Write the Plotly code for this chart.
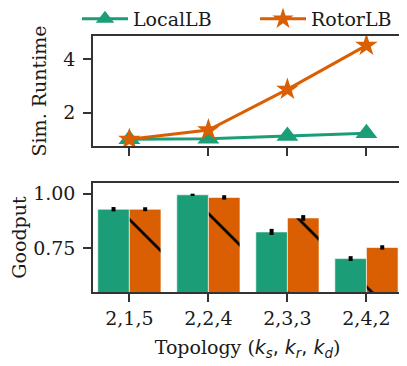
import plotly.graph_objects as go

topologies = ["2,1,5", "2,2,4", "2,3,3", "2,4,2"]
runtime_local = [1.0, 1.02, 1.12, 1.23]
runtime_rotor = [1.0, 1.35, 2.87, 4.52]
goodput_local = [0.929, 0.995, 0.825, 0.703]
goodput_rotor = [0.929, 0.983, 0.889, 0.754]
goodput_local_err = [0.010, 0.005, 0.014, 0.011]
goodput_rotor_err = [0.009, 0.010, 0.013, 0.010]

GREEN = "#1b9e77"
ORANGE = "#d95f02"
FONT = "DejaVu Serif"
TXT = "#1a1a1a"
AX = "#333333"

# The page body has an 8px margin; the figure is sized so it fits the window.
W, H = 399, 358
OFF = 8


def px_x(v):
    return (v - OFF) / W


def px_y(v):
    return 1 - (v - OFF) / H


fig = go.Figure()

fig.add_trace(go.Scatter(
    x=topologies, y=runtime_local, name="LocalLB", mode="lines+markers",
    line=dict(color=GREEN, width=3),
    marker=dict(symbol="triangle-up", size=19, color=GREEN),
    xaxis="x", yaxis="y", legend="legend",
))
fig.add_trace(go.Scatter(
    x=topologies, y=runtime_rotor, name="RotorLB", mode="lines+markers",
    line=dict(color=ORANGE, width=3),
    marker=dict(symbol="star", size=17, color=ORANGE),
    xaxis="x", yaxis="y", legend="legend2",
))

fig.add_trace(go.Bar(
    x=topologies, y=goodput_local, name="LocalLB", showlegend=False,
    marker=dict(color=GREEN, line=dict(color="rgba(255,255,255,0.6)", width=1)),
    error_y=dict(type="data", array=goodput_local_err, color="black", thickness=4, width=0),
    xaxis="x2", yaxis="y2",
))
fig.add_trace(go.Bar(
    x=topologies, y=goodput_rotor, name="RotorLB", showlegend=False,
    marker=dict(color=ORANGE, line=dict(color="rgba(255,255,255,0.6)", width=1),
                pattern=dict(shape="\\", size=60, solidity=0.045,
                             fgcolor="black", bgcolor=ORANGE, fillmode="replace")),
    error_y=dict(type="data", array=goodput_rotor_err, color="black", thickness=4, width=0),
    xaxis="x2", yaxis="y2",
))

xdom = [px_x(93), px_x(402)]
axis_common = dict(showline=True, linecolor=AX, linewidth=1.5, mirror=True,
                   ticks="outside", ticklen=8, tickwidth=1.5, tickcolor=AX,
                   showgrid=False, zeroline=False, automargin=False,
                   tickfont=dict(family=FONT, size=19, color=TXT))

legend_common = dict(orientation="h", xanchor="left", y=px_y(0), yanchor="top",
                     font=dict(family=FONT, size=19, color=TXT),
                     bgcolor="rgba(0,0,0,0)", itemwidth=46, borderwidth=0)

fig.update_layout(
    width=W, height=H,
    margin=dict(l=0, r=0, t=0, b=0, autoexpand=False),
    paper_bgcolor="white", plot_bgcolor="white",
    font=dict(family=FONT, size=19, color=TXT),
    barmode="group", bargap=0.2, bargroupgap=0,
    showlegend=True,
    legend=dict(x=px_x(77), **legend_common),
    legend2=dict(x=px_x(255), **legend_common),
    xaxis=dict(domain=xdom, anchor="y", type="category", range=[-0.46, 3.45],
               showticklabels=False, **axis_common),
    yaxis=dict(domain=[px_y(146), px_y(36)], anchor="x", range=[0.75, 4.87],
               tickvals=[2, 4], ticktext=["2", "4"], ticklabelstandoff=4,
               title=dict(text="Sim. Runtime", font=dict(family=FONT, size=19, color=TXT), standoff=12),
               **axis_common),
    xaxis2=dict(domain=xdom, anchor="y2", type="category", range=[-0.46, 3.45],
                ticklabelstandoff=0,
                title=dict(text="Topology (<span style=\"font-family:DejaVu Sans\"><i>k</i><sub><i>s</i></sub>, <i>k</i><sub><i>r</i></sub>, <i>k</i><sub><i>d</i></sub></span>)",
                           font=dict(family=FONT, size=19, color=TXT), standoff=13),
                **axis_common),
    yaxis2=dict(domain=[px_y(292), px_y(183)], anchor="x2", range=[0.55, 1.049],
                tickvals=[0.75, 1.0], ticktext=["0.75", "1.00"], ticklabelstandoff=4,
                title=dict(text="Goodput", font=dict(family=FONT, size=19, color=TXT), standoff=17),
                **axis_common),
)

fig.write_html("out.html")
